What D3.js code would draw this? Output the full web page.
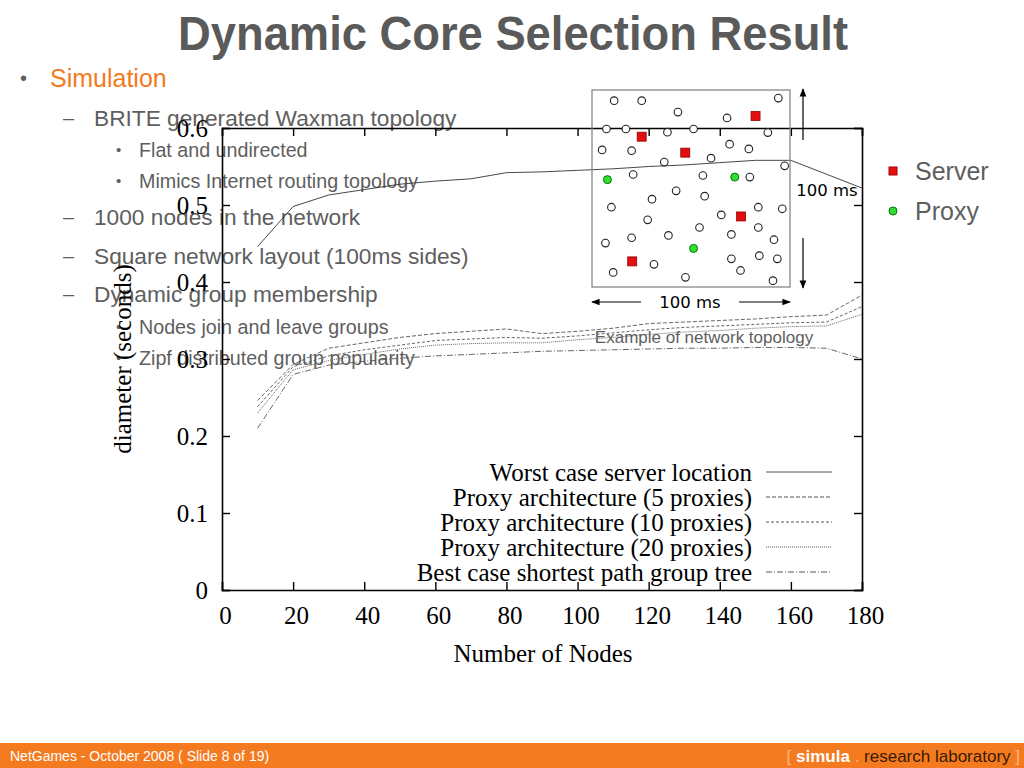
<!DOCTYPE html>
<html>
<head>
<meta charset="utf-8">
<script src="https://cdn.jsdelivr.net/npm/d3@7"></script>
<style>
  body { margin:0; background:#fff; }
  svg { display:block; }
</style>
</head>
<body>
<script>
// chart data
var nodes = [10,20,30,40,50,60,70,80,90,100,110,120,130,140,150,160,170,180];
var worstCase = [0.446,0.498,0.513,0.520,0.527,0.531,0.534,0.542,0.543,0.545,0.547,0.550,0.552,0.555,0.558,0.558,0.540,0.522];
var proxy5  = [0.246,0.293,0.314,0.321,0.328,0.333,0.336,0.339,0.333,0.336,0.340,0.346,0.348,0.350,0.352,0.355,0.357,0.383];
var proxy10 = [0.238,0.290,0.304,0.312,0.318,0.324,0.326,0.328,0.327,0.330,0.334,0.338,0.341,0.343,0.345,0.347,0.348,0.368];
var proxy20 = [0.230,0.286,0.298,0.306,0.313,0.318,0.320,0.321,0.321,0.325,0.328,0.332,0.335,0.337,0.340,0.342,0.343,0.358];
var bestCase = [0.210,0.280,0.292,0.297,0.301,0.304,0.306,0.308,0.310,0.311,0.312,0.313,0.314,0.314,0.315,0.315,0.314,0.300];

var seriesNames = ["Worst case server location","Proxy architecture (5 proxies)","Proxy architecture (10 proxies)","Proxy architecture (20 proxies)","Best case shortest path group tree"];
var seriesValues = [worstCase, proxy5, proxy10, proxy20, bestCase];
var seriesDash = ["none","4,2","3,2","1,1","6,2,1,2"];

var xTicks = [0,20,40,60,80,100,120,140,160,180];
var yTicks = [0,0.1,0.2,0.3,0.4,0.5,0.6];

// topology example (ms, 0..100 square)
var plainX = [11.2,25.1,94.1,43.4,68.2,7.3,17.1,38.1,51.3,88.8,5.1,20.0,69.5,79.2,36.5,60.1,97.3,20.8,56.0,79.7,42.5,30.3,56.9,9.8,65.3,84.0,96.1,28.1,54.3,84.0,6.8,20.0,38.6,70.4,91.9,31.3,70.4,84.5,93.6,10.7,75.0,47.2,91.4];
var plainY = [5.4,5.4,4.1,11.2,14.2,19.8,19.8,21.4,19.8,21.6,30.4,30.8,27.5,29.9,36.6,34.6,38.5,42.9,43.4,44.2,51.2,55.4,53.9,59.5,63.4,59.5,60.3,65.9,69.8,69.8,77.7,75.0,73.8,73.3,76.0,88.5,85.7,84.1,85.7,92.6,91.6,95.1,96.8];
var serverX = [82.6,25.1,47.1,75.3,20.3];
var serverY = [13.2,23.7,31.8,64.2,87.0];
var proxyX = [7.8,72.1,51.3];
var proxyY = [45.5,44.2,80.4];

var bullets = [
  {lvl:0, text:"Simulation"},
  {lvl:1, text:"BRITE generated Waxman topology"},
  {lvl:2, text:"Flat and undirected"},
  {lvl:2, text:"Mimics Internet routing topology"},
  {lvl:1, text:"1000 nodes in the network"},
  {lvl:1, text:"Square network layout (100ms sides)"},
  {lvl:1, text:"Dynamic group membership"},
  {lvl:2, text:"Nodes join and leave groups"},
  {lvl:2, text:"Zipf distributed group popularity"}
];
var bulletY = [78,118,150,181,217,256,294,327,358];

var width = 1024, height = 768;
var svg = d3.select("body").append("svg")
  .attr("width", width)
  .attr("height", height);

var grey = "#5e5e5e";
var orange = "#f47a20";
var sansA = "Liberation Sans, Arial, sans-serif";

// ---- slide text ----
svg.append("text")
  .attr("x", 513).attr("y", 50)
  .attr("text-anchor","middle")
  .style("font-family",sansA)
  .style("font-weight","bold")
  .style("font-size","48px")
  .attr("textLength", 670)
  .attr("lengthAdjust","spacingAndGlyphs")
  .attr("fill", "#5a5a5a")
  .text("Dynamic Core Selection Result");

var bulletX = [20, 63, 116];
var textX = [50, 94, 139];
var fontSz = [25, 22.7, 19.7];
bullets.forEach(function(b, i){
  var mark = b.lvl == 1 ? "\u2013" : "\u2022";
  svg.append("text")
    .attr("x", bulletX[b.lvl]).attr("y", bulletY[i])
    .attr("dy","0.35em")
    .style("font-family",sansA)
    .style("font-size", (b.lvl==2 ? 15 : 20) + "px")
    .attr("fill", grey)
    .text(mark);
  svg.append("text")
    .attr("x", textX[b.lvl]).attr("y", bulletY[i])
    .attr("dy","0.35em")
    .style("font-family",sansA)
    .style("font-size", fontSz[b.lvl] + "px")
    .attr("fill", b.lvl == 0 ? orange : grey)
    .text(b.text);
});

// right legend (server / proxy)
svg.append("rect").attr("x",889).attr("y",167).attr("width",8).attr("height",8)
  .attr("fill","#e01010").attr("stroke","#a00");
svg.append("text").attr("x",915).attr("y",171).attr("dy","0.35em")
  .style("font-family",sansA).style("font-size","25px")
  .attr("fill",grey).text("Server");
svg.append("circle").attr("cx",893).attr("cy",211).attr("r",4)
  .attr("fill","#33dd33").attr("stroke","#070");
svg.append("text").attr("x",915).attr("y",211).attr("dy","0.35em")
  .style("font-family",sansA).style("font-size","25px")
  .attr("fill",grey).text("Proxy");

// footer
svg.append("rect").attr("x",0).attr("y",743).attr("width",width).attr("height",25).attr("fill",orange);
svg.append("text").attr("x",10).attr("y",756).attr("dy","0.35em")
  .style("font-family",sansA).style("font-size","14px")
  .attr("fill","#fff").text("NetGames - October 2008 ( Slide 8 of 19)");
var foot = svg.append("text").attr("x",1020).attr("y",756).attr("dy","0.35em")
  .attr("text-anchor","end")
  .style("font-family",sansA).style("font-size","17px");
foot.append("tspan").attr("fill","#fbb77e").text("[ ");
foot.append("tspan").attr("fill","#fff").style("font-weight","bold").text("simula");
foot.append("tspan").attr("fill","#fbb77e").text(" . ");
foot.append("tspan").attr("fill","#3a1a00").text("research laboratory");
foot.append("tspan").attr("fill","#fbb77e").text(" ]");

// ---- chart ----
var x = d3.scaleLinear().domain([0,180]).range([222,862]);
var y = d3.scaleLinear().domain([0,0.6]).range([590,128]);
var serif = "Liberation Serif, Times New Roman, serif";

var gBottom = svg.append("g").attr("transform","translate(0,590)")
  .call(d3.axisBottom(x).tickValues(xTicks).tickSize(-8).tickPadding(16).tickFormat(d3.format("d")));
var gTop = svg.append("g").attr("transform","translate(0,128)")
  .call(d3.axisTop(x).tickValues(xTicks).tickSize(-8).tickFormat(""));
var gLeft = svg.append("g").attr("transform","translate(222,0)")
  .call(d3.axisLeft(y).tickValues(yTicks).tickSize(-8).tickPadding(14).tickFormat(function(d){ return d === 0 ? "0" : d3.format(".1f")(d); }));
var gRight = svg.append("g").attr("transform","translate(862,0)")
  .call(d3.axisRight(y).tickValues(yTicks).tickSize(-8).tickFormat(""));

[gBottom, gTop, gLeft, gRight].forEach(function(g){
  g.select(".domain").attr("stroke","#000").attr("stroke-width",1.6);
  g.selectAll(".tick line").attr("stroke","#000").attr("stroke-width",1.4);
  g.selectAll("text").style("font-family", serif).style("font-size","25px").attr("fill","#000");
});
gBottom.selectAll("text").attr("dx", 3);

svg.append("text").attr("x",543).attr("y",653).attr("dy","0.35em")
  .attr("text-anchor","middle")
  .style("font-family",serif).style("font-size","25px")
  .text("Number of Nodes");
svg.append("text")
  .attr("transform","translate(122,359) rotate(-90)")
  .attr("dy","0.35em")
  .attr("text-anchor","middle")
  .style("font-family",serif).style("font-size","25px")
  .text("diameter (seconds)");

var line = d3.line()
  .x(function(d){ return x(d[0]); })
  .y(function(d){ return y(d[1]); });

seriesValues.forEach(function(vals, i){
  var pts = nodes.map(function(n, j){ return [n, vals[j]]; });
  svg.append("path")
    .datum(pts)
    .attr("d", line)
    .attr("fill","none")
    .attr("stroke", i == 0 ? "#333" : "#555")
    .attr("stroke-width", 0.9)
    .attr("stroke-dasharray", seriesDash[i]);
});

// legend inside plot
var legY = [472,497,522,547,572];
seriesNames.forEach(function(name, i){
  svg.append("text").attr("x",752).attr("y",legY[i]).attr("dy","0.35em")
    .attr("text-anchor","end")
    .style("font-family",serif).style("font-size","25px")
    .text(name);
  svg.append("line").attr("x1",766).attr("x2",832).attr("y1",legY[i]).attr("y2",legY[i])
    .attr("stroke","#444").attr("stroke-width",0.9)
    .attr("stroke-dasharray", seriesDash[i]);
});

// ---- topology inset ----
var tx = d3.scaleLinear().domain([0,100]).range([592,790]);
var ty = d3.scaleLinear().domain([0,100]).range([90,287]);
var inset = svg.append("g");
inset.append("rect").attr("x",tx(0)).attr("y",ty(0))
  .attr("width",tx(100)-tx(0)).attr("height",ty(100)-ty(0))
  .attr("fill","none").attr("stroke","#888").attr("stroke-width",1.3);

inset.selectAll("circle.node")
  .data(d3.range(plainX.length))
  .enter().append("circle")
  .attr("class","node")
  .attr("cx", function(i){ return tx(plainX[i]); })
  .attr("cy", function(i){ return ty(plainY[i]); })
  .attr("r",3.8)
  .attr("fill","#fff").attr("stroke","#222").attr("stroke-width",1.1);

inset.selectAll("rect.server")
  .data(d3.range(serverX.length))
  .enter().append("rect")
  .attr("class","server")
  .attr("x", function(i){ return tx(serverX[i]) - 4.5; })
  .attr("y", function(i){ return ty(serverY[i]) - 4.5; })
  .attr("width",9).attr("height",9)
  .attr("fill","#e01010").attr("stroke","#900").attr("stroke-width",0.8);

inset.selectAll("circle.proxy")
  .data(d3.range(proxyX.length))
  .enter().append("circle")
  .attr("class","proxy")
  .attr("cx", function(i){ return tx(proxyX[i]); })
  .attr("cy", function(i){ return ty(proxyY[i]); })
  .attr("r",4)
  .attr("fill","#33dd33").attr("stroke","#070").attr("stroke-width",1);

var defs = svg.append("defs");
defs.append("marker").attr("id","arr")
  .attr("viewBox","0 0 10 10").attr("refX",9).attr("refY",5)
  .attr("markerWidth",7).attr("markerHeight",7).attr("orient","auto")
  .append("path").attr("d","M0,1 L10,5 L0,9 z").attr("fill","#000");

function arrow(x1,y1,x2,y2){
  inset.append("line").attr("x1",x1).attr("y1",y1).attr("x2",x2).attr("y2",y2)
    .attr("stroke","#000").attr("stroke-width",1.2).attr("marker-end","url(#arr)");
}
arrow(803,140,803,89);
arrow(803,238,803,288);
arrow(641,302,592,302);
arrow(739,302,790,302);

var sans = "DejaVu Sans, sans-serif";
inset.append("text").attr("x",827).attr("y",190).attr("dy","0.35em").attr("text-anchor","middle")
  .style("font-family",sans).style("font-size","16.5px").text("100 ms");
inset.append("text").attr("x",690).attr("y",302).attr("dy","0.35em").attr("text-anchor","middle")
  .style("font-family",sans).style("font-size","16.5px").text("100 ms");
inset.append("text").attr("x",704).attr("y",337).attr("dy","0.35em").attr("text-anchor","middle")
  .style("font-family",sansA).style("font-size","17px")
  .attr("fill",grey).text("Example of network topology");
</script>
</body>
</html>
